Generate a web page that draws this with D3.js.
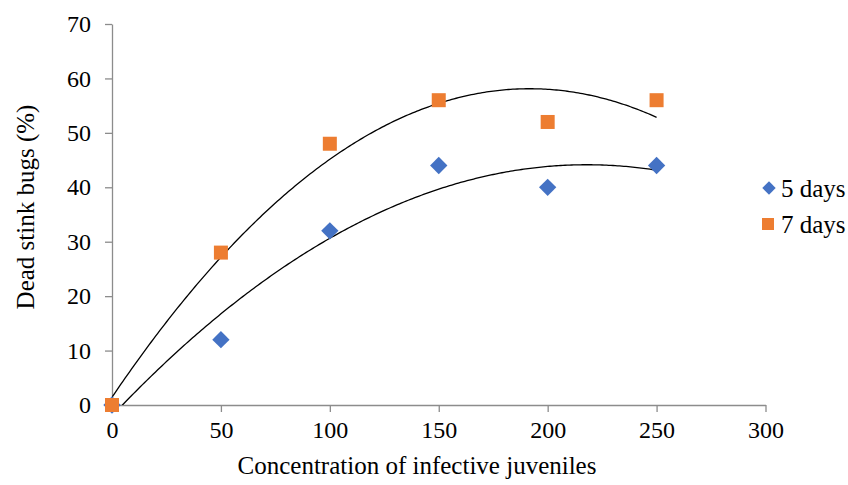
<!DOCTYPE html>
<html><head><meta charset="utf-8">
<script src="https://cdn.jsdelivr.net/npm/d3@7"></script>
<style>body{margin:0;background:#fff}svg{display:block}</style>
</head><body>
<script>
const concentrations = [0, 50, 100, 150, 200, 250];
const days5 = [0, 12, 32, 44, 40, 44];
const days7 = [0, 28, 48, 56, 52, 56];
const seriesNames = ["5 days", "7 days"];
const xTicks = [0, 50, 100, 150, 200, 250, 300];
const yTicks = [0, 10, 20, 30, 40, 50, 60, 70];

const W = 848, H = 485;
const font = "'Liberation Serif','Times New Roman',serif";
const svg = d3.select("body").append("svg").attr("width", W).attr("height", H);
const x = d3.scaleLinear().domain([0,300]).range([112, 765.5]);
const y = d3.scaleLinear().domain([0,70]).range([405, 24]);
const axisColor = "#8c8c8c";

svg.append("clipPath").attr("id","pc").append("rect")
  .attr("x",112).attr("y",24).attr("width",765.5-112).attr("height",405-24);

const xa = svg.append("g").attr("transform","translate(0,405)")
  .call(d3.axisBottom(x).tickValues(xTicks).tickSize(7).tickPadding(9).tickSizeOuter(0));
const ya = svg.append("g").attr("transform","translate(112,0)")
  .call(d3.axisLeft(y).tickValues(yTicks).tickSize(7).tickPadding(14).tickSizeOuter(0));
[xa, ya].forEach(g => {
  g.selectAll("path,line").attr("stroke", axisColor).attr("stroke-width",1.3);
  g.selectAll("text").attr("font-family", font).attr("font-size", 24).attr("fill","#000");
});

function fitQuad(xs, ys) {
  const n = xs.length;
  let S = [0,0,0,0,0], T = [0,0,0];
  for (let i=0;i<n;i++){
    for (let k=0;k<5;k++) S[k]+=Math.pow(xs[i],k);
    for (let k=0;k<3;k++) T[k]+=Math.pow(xs[i],k)*ys[i];
  }
  const A = [[S[0],S[1],S[2],T[0]],[S[1],S[2],S[3],T[1]],[S[2],S[3],S[4],T[2]]];
  for (let i=0;i<3;i++){
    for (let j=i+1;j<3;j++){
      const f=A[j][i]/A[i][i];
      for (let k=i;k<4;k++) A[j][k]-=f*A[i][k];
    }
  }
  const c=[0,0,0];
  for (let i=2;i>=0;i--){
    let s=A[i][3];
    for (let k=i+1;k<3;k++) s-=A[i][k]*c[k];
    c[i]=s/A[i][i];
  }
  return t => c[0]+c[1]*t+c[2]*t*t;
}
const line = d3.line().x(d=>x(d[0])).y(d=>y(d[1]));
[days5, days7].forEach(vals => {
  const f = fitQuad(concentrations, vals);
  const pts = d3.range(0, 250.01, 1).map(t => [t, f(t)]);
  svg.append("path").attr("clip-path","url(#pc)").attr("d", line(pts))
    .attr("fill","none").attr("stroke","#000").attr("stroke-width",1.3);
});

const blue = "#4472C4", orange = "#ED7D31";
svg.append("g").selectAll("path").data(concentrations).join("path")
  .attr("d", d3.symbol().type(d3.symbolSquare).size(150))
  .attr("transform",(d,i)=>`translate(${x(d)},${y(days5[i])}) rotate(45)`)
  .attr("fill", blue);
svg.append("g").selectAll("rect").data(concentrations).join("rect")
  .attr("x", d=>x(d)-7).attr("y",(d,i)=>y(days7[i])-7)
  .attr("width",14).attr("height",14).attr("fill", orange);

const lg = svg.append("g");
lg.append("path").attr("d", d3.symbol().type(d3.symbolSquare).size(90))
  .attr("transform","translate(769,188) rotate(45)").attr("fill", blue);
lg.append("rect").attr("x",762).attr("y",218).attr("width",12).attr("height",12).attr("fill",orange);
lg.selectAll("text").data(seriesNames).join("text")
  .attr("x",781).attr("y",(d,i)=>197+i*36)
  .attr("font-family",font).attr("font-size",25).text(d=>d);

svg.append("text").attr("x",417).attr("y",474).attr("text-anchor","middle")
  .attr("font-family",font).attr("font-size",25).text("Concentration of infective juveniles");
svg.append("text").attr("transform","translate(34,207) rotate(-90)").attr("text-anchor","middle")
  .attr("font-family",font).attr("font-size",25).text("Dead stink bugs (%)");
</script>
</body></html>
